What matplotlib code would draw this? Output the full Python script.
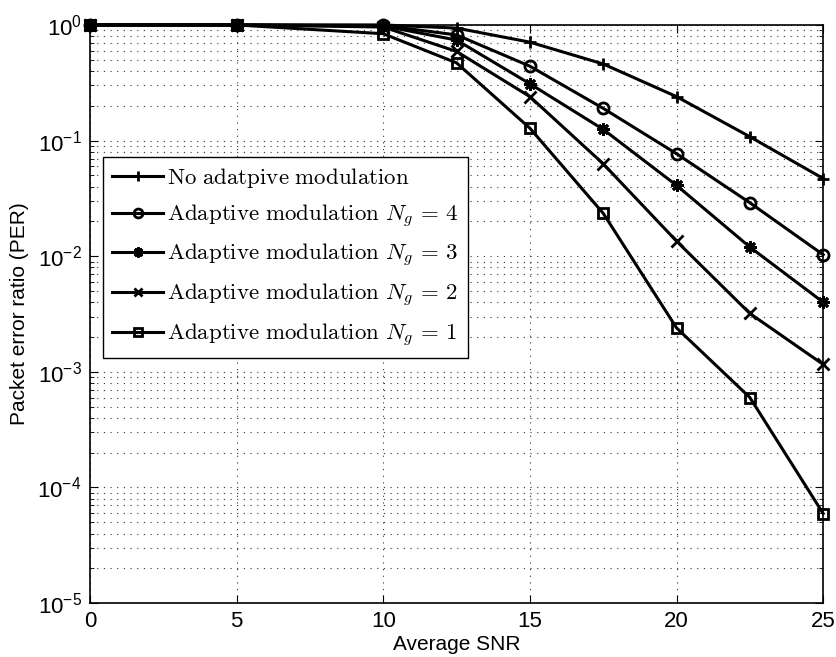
import numpy as np
import matplotlib.pyplot as plt
from matplotlib.ticker import LogLocator, NullFormatter

plt.rcParams['mathtext.fontset'] = 'cm'
plt.rcParams['font.family'] = ['Liberation Sans', 'DejaVu Sans']

# average SNR points
snr = [0, 5, 10, 12.5, 15, 17.5, 20, 22.5, 25]

# packet error ratio
per_no_adapt = [1.0, 1.0, 1.0, 0.94, 0.71, 0.46, 0.24, 0.108, 0.047]
per_ng4 = [1.0, 1.0, 0.99, 0.82, 0.44, 0.19, 0.077, 0.029, 0.0103]
per_ng3 = [1.0, 1.0, 0.98, 0.74, 0.31, 0.125, 0.041, 0.012, 0.004]
per_ng2 = [1.0, 1.0, 0.96, 0.59, 0.24, 0.063, 0.0135, 0.0032, 0.00116]
per_ng1 = [1.0, 1.0, 0.84, 0.47, 0.128, 0.0235, 0.0024, 0.0006, 0.0000595]

labels = [r'$\mathrm{No\ adatpive\ modulation}$',
          r'$\mathrm{Adaptive\ modulation}\ N_g\,=\,4$',
          r'$\mathrm{Adaptive\ modulation}\ N_g\,=\,3$',
          r'$\mathrm{Adaptive\ modulation}\ N_g\,=\,2$',
          r'$\mathrm{Adaptive\ modulation}\ N_g\,=\,1$']

fig = plt.figure(figsize=(8.37, 6.57), dpi=100)
ax = fig.add_axes([0.1075, 0.082, 0.876, 0.880])

lw = 2.2
kw = dict(color='k', lw=lw, mew=2, clip_on=False, zorder=3)
ax.semilogy(snr, per_no_adapt, marker='+', ms=9, label=labels[0], **kw)
ax.semilogy(snr, per_ng4, marker='o', ms=8, mfc='none', label=labels[1], **kw)
ax.semilogy(snr, per_ng3, marker=(8, 2, 0), ms=9, label=labels[2], **kw)
ax.semilogy(snr, per_ng2, marker='x', ms=8, label=labels[3], **kw)
ax.semilogy(snr, per_ng1, marker='s', ms=7, mfc='none', label=labels[4], **kw)

ax.set_xlim(0, 25)
ax.set_ylim(1e-5, 1)
ax.set_xticks([0, 5, 10, 15, 20, 25])
ax.yaxis.set_major_locator(LogLocator(base=10, numticks=10))
ax.yaxis.set_minor_locator(LogLocator(base=10, subs=np.arange(2, 10), numticks=20))
ax.yaxis.set_minor_formatter(NullFormatter())

dots = (0, (1, 5))
ax.grid(True, which='major', linestyle=dots, color='0.2', linewidth=0.8)
ax.grid(True, which='minor', axis='y', linestyle=dots, color='0.2', linewidth=0.8)

ax.tick_params(which='both', direction='in', top=True, right=True, labelsize=16)
ax.tick_params(which='major', length=6, pad=6)
ax.tick_params(which='minor', length=3)
for s in ax.spines.values():
    s.set_linewidth(1.2)

ax.set_xlabel('Average SNR', fontsize=15, labelpad=2)
ax.set_ylabel('Packet error ratio (PER)', fontsize=15, labelpad=6)

leg = ax.legend(loc='upper left', bbox_to_anchor=(0.018, 0.772), borderaxespad=0,
                fontsize=16.5, fancybox=False, edgecolor='k', framealpha=1,
                handlelength=2.2, handletextpad=0.2, labelspacing=0.55, markerscale=0.8,
                borderpad=0.4)
leg.get_frame().set_linewidth(1.0)
leg.set_zorder(5)

fig.savefig('out.png', dpi=100)
